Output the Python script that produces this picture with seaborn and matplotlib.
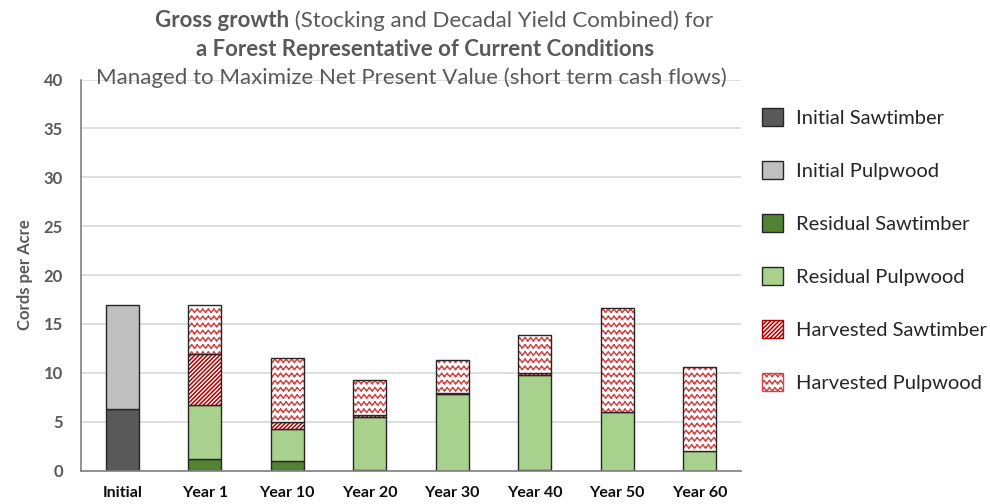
import warnings
import numpy as np
import matplotlib
matplotlib.use('Agg')
import matplotlib.pyplot as plt
import matplotlib.hatch as mhatch
from matplotlib.path import Path
from matplotlib.patches import Patch
import seaborn as sns

warnings.filterwarnings('ignore')

years = ['Initial', 'Year 1', 'Year 10', 'Year 20', 'Year 30', 'Year 40', 'Year 50', 'Year 60']
initial_saw = [6.3, 0, 0, 0, 0, 0, 0, 0]
initial_pulp = [10.6, 0, 0, 0, 0, 0, 0, 0]
resid_saw = [0, 1.2, 1.0, 0.1, 0, 0.1, 0, 0]
resid_pulp = [0, 5.5, 3.2, 5.35, 7.85, 9.7, 6.0, 2.0]
harv_saw = [0, 5.2, 0.8, 0.2, 0.05, 0.2, 0, 0]
harv_pulp = [0, 5.0, 6.5, 3.65, 3.45, 3.85, 10.6, 8.6]

layer_names = ['Initial Sawtimber', 'Initial Pulpwood', 'Residual Sawtimber',
               'Residual Pulpwood', 'Harvested Sawtimber', 'Harvested Pulpwood']


# zigzag rows like the Excel "wave" fill, one set of rows per 'w' in the hatch string.
# every stroke is its own two-point subpath so agg has no area to fill
class WaveHatch(mhatch.HatchPatternBase):
    def __init__(self, hatch, density):
        self.rows = hatch.count('w') * 14
        self.segs = 36
        self.num_vertices = self.rows * self.segs * 2

    def set_vertices_and_codes(self, vertices, codes):
        xs = np.linspace(0, 1, self.segs + 1)
        ys = np.where(np.arange(self.segs + 1) % 2 == 0, -0.015, 0.015)
        k = 0
        for i in range(self.rows):
            y0 = (i + 0.5) / self.rows
            for j in range(self.segs):
                vertices[k] = (xs[j], y0 + ys[j])
                vertices[k + 1] = (xs[j + 1], y0 + ys[j + 1])
                codes[k] = Path.MOVETO
                codes[k + 1] = Path.LINETO
                k += 2


mhatch._hatch_types.append(WaveHatch)

sns.set_style('white')
plt.rcParams['font.family'] = ['Lato', 'DejaVu Sans']
plt.rcParams['hatch.linewidth'] = 1.1

W, H = 990, 504
fig = plt.figure(figsize=(W / 100, H / 100), dpi=100)
ax = fig.add_axes([81 / W, 1 - 470.5 / H, 660 / W, 391 / H])

saw_red = '#B00000'
wave_red = '#D64545'
outline = '#262626'
solid = [(initial_saw, '#595959'), (initial_pulp, '#BFBFBF'),
         (resid_saw, '#548235'), (resid_pulp, '#A9D18E')]
hatched = [(harv_saw, '////////', saw_red), (harv_pulp, 'w', wave_red)]

bottom = np.zeros(len(years))
for vals, col in solid:
    sns.barplot(x=years, y=vals, bottom=bottom, color=col, saturation=1, width=0.4,
                errorbar=None, edgecolor=outline, linewidth=1, ax=ax)
    bottom += np.array(vals)
for vals, pat, hc in hatched:
    sns.barplot(x=years, y=vals, bottom=bottom, color='white', saturation=1, width=0.4,
                errorbar=None, edgecolor=hc, linewidth=0, hatch=pat, ax=ax)
    sns.barplot(x=years, y=vals, bottom=bottom, color=outline, fill=False, saturation=1,
                width=0.4, errorbar=None, linewidth=1, ax=ax)
    bottom += np.array(vals)

# empty segments should not leave an outline behind
for p in ax.patches:
    if p.get_height() == 0:
        p.set_linewidth(0)

ax.set_ylim(0, 40)
ax.set_yticks(range(0, 41, 5))
ax.set_xlim(-0.5, len(years) - 0.5)
ax.yaxis.grid(True, color='#D9D9D9', linewidth=1.2)
ax.set_axisbelow(True)
for s in ['top', 'right']:
    ax.spines[s].set_visible(False)
for s in ['left', 'bottom']:
    ax.spines[s].set_color('#808080')
    ax.spines[s].set_linewidth(1.2)
ax.tick_params(axis='y', length=0, pad=13, labelsize=12, labelcolor='#595959')
ax.tick_params(axis='x', length=0, pad=11, labelsize=11.5, labelcolor='#0D0D0D')
for t in ax.get_yticklabels() + ax.get_xticklabels():
    t.set_fontweight('bold')
ax.set_xlabel('')
ax.set_ylabel('Cords per Acre', fontsize=12, fontweight='bold', color='#595959')
ax.yaxis.set_label_coords(-0.073, 0.5)

# legend
handles = [Patch(facecolor='#595959', edgecolor=outline),
           Patch(facecolor='#BFBFBF', edgecolor=outline),
           Patch(facecolor='#548235', edgecolor=outline),
           Patch(facecolor='#A9D18E', edgecolor=outline),
           Patch(facecolor='white', edgecolor=saw_red, hatch='////////'),
           Patch(facecolor='white', edgecolor=wave_red, hatch='w')]
leg = fig.legend(handles, layer_names, loc='upper left', bbox_to_anchor=(762 / W, 1 - 108 / H),
                 frameon=False, fontsize=14.5, handlelength=1.03, handleheight=1.03,
                 handletextpad=0.66, labelspacing=1.68, borderpad=0, borderaxespad=0)
for t in leg.get_texts():
    t.set_color('#262626')

# title, three centred lines with bold pieces
renderer = fig.canvas.get_renderer()
grey = '#595959'
probe = fig.text(0, 0, 'Managed to Maximize Net Present Value (short term cash flows)', fontsize=12)
size = 12 * 627 / probe.get_window_extent(renderer).width
probe.remove()


def title_line(pieces, cx, base_y):
    arts = [fig.text(0, 1 - base_y / H, t, fontsize=size, fontweight=w, color=grey, va='baseline')
            for t, w in pieces]
    widths = [a.get_window_extent(renderer).width for a in arts]
    x = cx - sum(widths) / 2
    for a, w in zip(arts, widths):
        a.set_x(x / W)
        x += w


title_line([('Gross growth', 'bold'), (' (Stocking and Decadal Yield Combined) for', 'normal')], 434, 27)
title_line([('a Forest Representative of Current Conditions', 'bold')], 425, 56)
title_line([('Managed to Maximize Net Present Value (short term cash flows)', 'normal')], 411, 84)

fig.savefig('out.png', dpi=100)
